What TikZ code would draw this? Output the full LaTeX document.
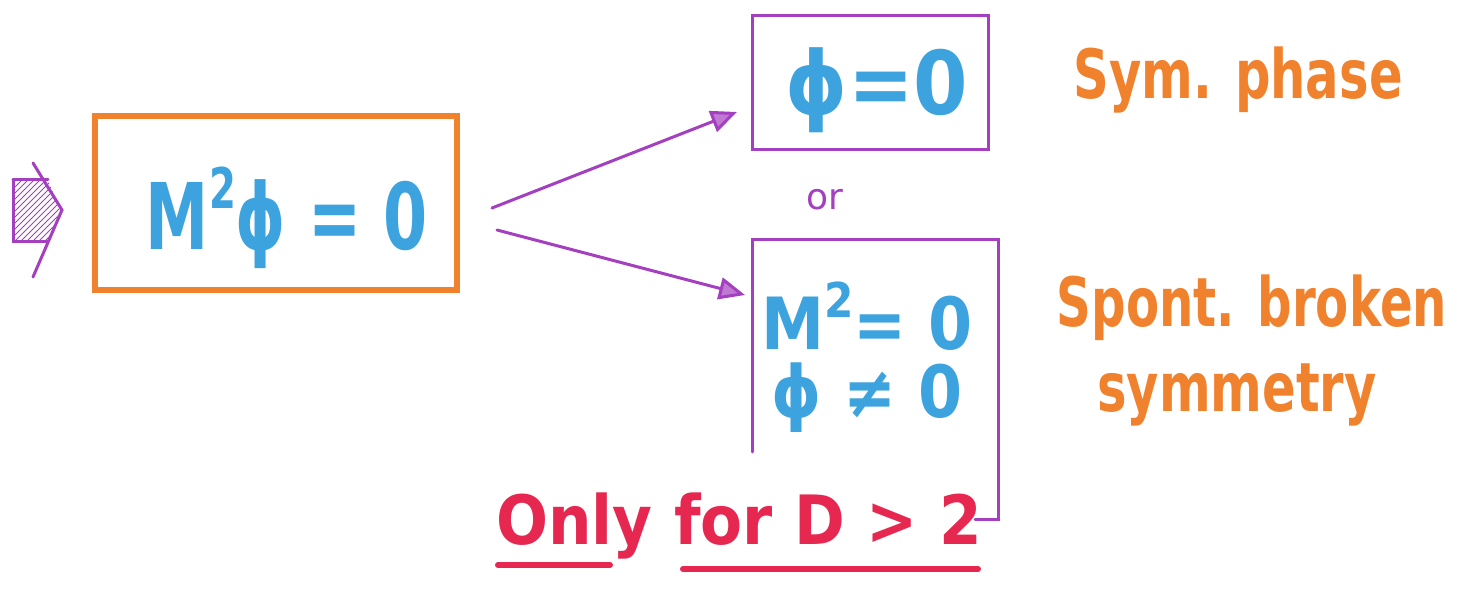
\documentclass[tikz,border=0pt]{standalone}
\usepackage{fontspec}
\setmainfont{DejaVu Sans}
\usetikzlibrary{arrows.meta,patterns}
\definecolor{corange}{HTML}{F0822E}
\definecolor{cblue}{HTML}{3DA3DF}
\definecolor{cpurple}{HTML}{A43FC0}
\definecolor{cred}{HTML}{E62850}
\newcommand{\hw}[2]{\scalebox{#1}[1]{#2}}
\begin{document}
\begin{tikzpicture}[x=0.5pt,y=-0.5pt,
  eqtext/.style={text=cblue, inner sep=0pt},
  lbl/.style={text=corange, inner sep=0pt, align=center},
  pline/.style={draw=cpurple, line width=1.5pt, line cap=round},
  parrow/.style={pline, -{Triangle[length=13pt,width=11pt,fill=cpurple!70]}},
  redline/.style={draw=cred, line width=3pt, line cap=round}]
\path[use as bounding box] (0,0) rectangle (1461,592);

% hatched input arrow
\path[pattern=north east lines, pattern color=cpurple] (13,180) -- (48,180) -- (60,210) -- (48,242) -- (13,242) -- cycle;
\draw[pline] (13,180) -- (48,180) (13,180) -- (13,242) -- (48,242);
\draw[pline] (33,163) -- (62,210) -- (33,277);

% orange box
\node[draw=corange, line width=3pt, minimum width=181pt, minimum height=87pt] (main) at (276,203) {};
\node[eqtext, font=\bfseries\fontsize{46}{50}\selectfont] (eq) at (287,218) {\hw{0.69}{M\raisebox{0.45em}{\fontsize{28}{30}\selectfont 2}ϕ = 0}};

% top box
\node[draw=cpurple, line width=1.5pt, minimum width=118pt, minimum height=67pt] (sym) at (870,83) {};
\node[eqtext, font=\bfseries\fontsize{44}{48}\selectfont] (eqsym) at (877,90) {\hw{0.89}{ϕ=0}};

% or
\node[text=cpurple, inner sep=0pt, font=\fontsize{18}{20}\selectfont] (or) at (825,200) {or};

% bottom box (open bracket shape)
\coordinate (bTL) at (752,240);
\coordinate (bBL) at (752,452);
\coordinate (bTR) at (998,240);
\coordinate (bBR) at (998,520);
\coordinate (bStub) at (975,520);
\draw[pline] (bBL) -- (bTL) -- (bTR) -- (bBR) -- (bStub);
\node[eqtext, font=\bfseries\fontsize{36}{40}\selectfont] (eqb1) at (867,316) {\hw{0.88}{M\raisebox{0.45em}{\fontsize{24}{26}\selectfont 2}= 0}};
\node[eqtext, font=\bfseries\fontsize{36}{40}\selectfont] (eqb2) at (867,398) {\hw{0.88}{ϕ ≠ 0}};

% arrows
\coordinate (a1s) at (492,208);
\coordinate (a1e) at (737,112);
\coordinate (a2s) at (497,230);
\coordinate (a2e) at (745,295);
\draw[parrow] (a1s) -- (a1e);
\draw[parrow] (a2s) -- (a2e);

% labels
\node[lbl, font=\bfseries\fontsize{34}{38}\selectfont] (l1) at (1238,80) {\hw{0.73}{Sym. phase}};
\node[lbl, font=\bfseries\fontsize{34}{38}\selectfont] (l2) at (1252,308) {\hw{0.71}{Spont. broken}};
\node[lbl, font=\bfseries\fontsize{34}{38}\selectfont] (l3) at (1237,395) {\hw{0.73}{symmetry}};

% only for D>2
\node[text=cred, inner sep=0pt, font=\bfseries\fontsize{34}{38}\selectfont] (only) at (739,526) {\hw{0.9}{Only for D > 2}};
\coordinate (u1s) at (498,565);
\coordinate (u1e) at (610,565);
\coordinate (u2s) at (683,569);
\coordinate (u2e) at (978,569);
\draw[redline] (u1s) -- (u1e);
\draw[redline] (u2s) -- (u2e);
\end{tikzpicture}
\end{document}
